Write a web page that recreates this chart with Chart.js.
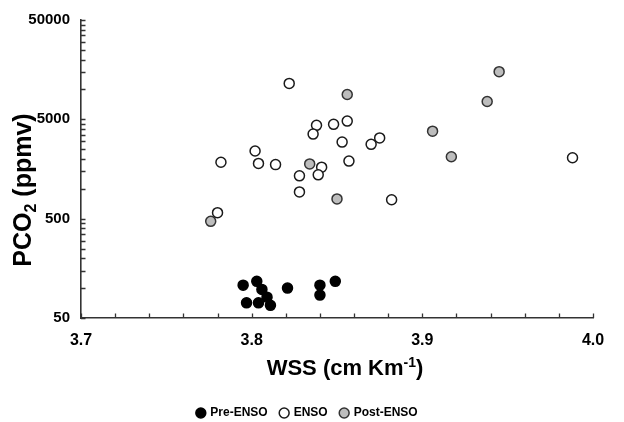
<!DOCTYPE html>
<html>
<head>
<meta charset="utf-8">
<script src="https://cdn.jsdelivr.net/npm/chart.js@4"></script>
<style>
    body { margin: 0; background: #fff; }
    #wrap { width: 624px; height: 422px; }
</style>
</head>
<body>
<div id="wrap"><canvas id="wssChart"></canvas></div>
<script>
// WSS (cm Km-1) vs PCO2 (ppmv), three periods
const preX  = [3.795, 3.803, 3.806, 3.809, 3.797, 3.804, 3.811, 3.821, 3.840, 3.840, 3.849];
const preY  = [107, 117, 97, 81, 71, 71, 67, 100, 107, 85, 117];

const ensoX = [3.822, 3.838, 3.836, 3.848, 3.856, 3.853, 3.870, 3.875, 3.782, 3.802,
               3.804, 3.814, 3.841, 3.839, 3.828, 3.857, 3.828, 3.882, 3.780, 3.988];
const ensoY = [11500, 4350, 3550, 4450, 4800, 2950, 2800, 3250, 1850, 2400,
               1800, 1750, 1650, 1380, 1350, 1900, 930, 775, 575, 2050];

const postX = [3.856, 3.834, 3.850, 3.776, 3.906, 3.917, 3.938, 3.945];
const postY = [8900, 1780, 790, 470, 3800, 2100, 7550, 15100];

const xTicks = [3.70, 3.72, 3.74, 3.76, 3.78, 3.80, 3.82, 3.84, 3.86, 3.88, 3.90, 3.92, 3.94, 3.96, 3.98, 4.00];
const xLabels = ['3.7', '3.8', '3.9', '4.0'];
const yTicks = [50, 100, 150, 200, 250, 300, 350, 400, 450,
                500, 1000, 1500, 2000, 2500, 3000, 3500, 4000, 4500,
                5000, 10000, 15000, 20000, 25000, 30000, 35000, 40000, 45000, 50000];
const yLabels = [50, 500, 5000, 50000];

const FONT = "'Liberation Sans', Arial, sans-serif";
const AXIS = '#333';

function toPoints(xs, ys) {
    return xs.map((x, i) => ({ x: x, y: ys[i] }));
}

// short tick marks drawn on the inside of both axes
const innerTicks = {
    id: 'innerTicks',
    afterDatasetsDraw(chart) {
        const { ctx, chartArea, scales } = chart;
        ctx.save();
        ctx.strokeStyle = AXIS;
        ctx.lineWidth = 1.3;
        ctx.beginPath();
        scales.x.ticks.forEach(t => {
            const px = Math.round(scales.x.getPixelForValue(t.value)) + 0.5;
            ctx.moveTo(px, chartArea.bottom);
            ctx.lineTo(px, chartArea.bottom - 4.5);
        });
        scales.y.ticks.forEach(t => {
            const py = Math.round(scales.y.getPixelForValue(t.value)) + 0.5;
            ctx.moveTo(chartArea.left, py);
            ctx.lineTo(chartArea.left + 4.5, py);
        });
        ctx.stroke();
        ctx.restore();
    }
};

// draws a row of text pieces (for sub/superscripts), centred on cx
function drawRuns(ctx, runs, cx, baseline) {
    let total = 0;
    runs.forEach(r => { ctx.font = r.font; r.w = ctx.measureText(r.text).width; total += r.w; });
    let x = cx - total / 2;
    runs.forEach(r => {
        ctx.font = r.font;
        ctx.fillText(r.text, x, baseline + (r.dy || 0));
        x += r.w;
    });
}

const axisTitles = {
    id: 'axisTitles',
    afterDraw(chart) {
        const { ctx, chartArea } = chart;
        ctx.save();
        ctx.fillStyle = '#000';
        ctx.textBaseline = 'alphabetic';
        ctx.textAlign = 'left';

        const cx = (chartArea.left + chartArea.right) / 2 + 8;
        drawRuns(ctx, [
            { text: 'WSS (cm Km', font: `bold 22px ${FONT}` },
            { text: '-1', font: `bold 14px ${FONT}`, dy: -8 },
            { text: ')', font: `bold 22px ${FONT}` }
        ], cx, chartArea.bottom + 57);

        ctx.translate(31, (chartArea.top + chartArea.bottom) / 2 + 21);
        ctx.rotate(-Math.PI / 2);
        drawRuns(ctx, [
            { text: 'PCO', font: `bold 25px ${FONT}` },
            { text: '2', font: `bold 16px ${FONT}`, dy: 5 },
            { text: ' (ppmv)', font: `bold 25px ${FONT}` }
        ], 0, 0);
        ctx.restore();
    }
};

new Chart(document.getElementById('wssChart'), {
    type: 'scatter',
    data: {
        datasets: [
            {
                label: 'Pre-ENSO',
                data: toPoints(preX, preY),
                backgroundColor: '#000',
                borderColor: '#000',
                borderWidth: 1.5,
                pointRadius: 5
            },
            {
                label: 'ENSO',
                data: toPoints(ensoX, ensoY),
                backgroundColor: '#fff',
                borderColor: '#1a1a1a',
                borderWidth: 1.5,
                pointRadius: 5
            },
            {
                label: 'Post-ENSO',
                data: toPoints(postX, postY),
                backgroundColor: '#bdbdbd',
                borderColor: '#333',
                borderWidth: 1.5,
                pointRadius: 5
            }
        ]
    },
    options: {
        responsive: true,
        maintainAspectRatio: false,
        animation: false,
        layout: { padding: { left: 22, right: 31, top: 16, bottom: -7 } },
        scales: {
            x: {
                type: 'linear',
                min: 3.7,
                max: 4.0,
                afterFit: (scale) => { scale.height = 76; },
                afterBuildTicks: (scale) => { scale.ticks = xTicks.map(v => ({ value: v })); },
                grid: { display: true, drawOnChartArea: false, drawTicks: false },
                border: { display: true, color: AXIS, width: 1.6 },
                ticks: {
                    autoSkip: false,
                    maxRotation: 0,
                    padding: 13,
                    color: '#000',
                    font: { family: FONT, size: 16, weight: 'bold' },
                    callback: (v) => {
                        const s = Number(v).toFixed(1);
                        return xLabels.includes(s) && Math.abs(v * 10 - Math.round(v * 10)) < 1e-6 ? s : '';
                    }
                }
            },
            y: {
                type: 'logarithmic',
                min: 50,
                max: 50000,
                afterFit: (scale) => { scale.width = 59; },
                afterBuildTicks: (scale) => { scale.ticks = yTicks.map(v => ({ value: v })); },
                grid: { display: true, drawOnChartArea: false, drawTicks: false },
                border: { display: true, color: AXIS, width: 1.6 },
                ticks: {
                    autoSkip: false,
                    padding: 11,
                    color: '#000',
                    font: { family: FONT, size: 15, weight: 'bold' },
                    callback: (v) => yLabels.includes(v) ? String(v) : ''
                }
            }
        },
        plugins: {
            legend: {
                position: 'bottom',
                labels: {
                    usePointStyle: true,
                    pointStyle: 'circle',
                    boxWidth: 7,
                    boxHeight: 7,
                    padding: 13,
                    color: '#000',
                    font: { family: FONT, size: 12, weight: 'bold' }
                }
            },
            tooltip: { enabled: false }
        }
    },
    plugins: [innerTicks, axisTitles]
});
</script>
</body>
</html>
